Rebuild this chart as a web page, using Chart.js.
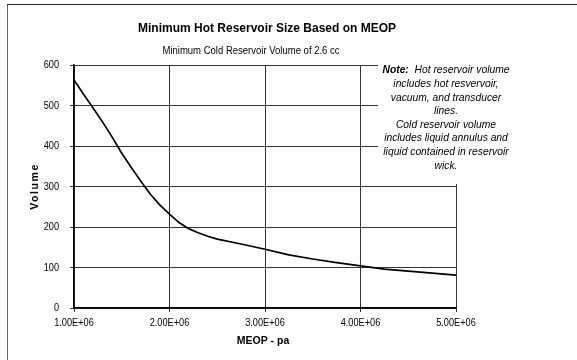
<!DOCTYPE html>
<html>
<head>
<meta charset="utf-8">
<script src="https://cdn.jsdelivr.net/npm/chart.js@4"></script>
<style>
  html, body { margin: 0; padding: 0; background: #fff; }
  #wrap { width: 577px; height: 360px; }
</style>
</head>
<body>
<div id="wrap"><canvas id="c" width="577" height="360"></canvas></div>
<script>
// MEOP (Pa) and minimum hot reservoir volume (cc)
const meop = [1.0e6, 1.1e6, 1.2e6, 1.3e6, 1.4e6, 1.5e6, 1.6e6, 1.7e6, 1.8e6, 1.9e6,
              2.0e6, 2.1e6, 2.2e6, 2.3e6, 2.4e6, 2.5e6, 2.75e6, 3.0e6, 3.25e6, 3.5e6,
              3.75e6, 4.0e6, 4.25e6, 4.5e6, 4.75e6, 5.0e6];
const volume = [563, 528, 494, 459, 422, 382, 347, 313, 281, 254,
                232, 211, 196, 186, 177, 170, 158, 145, 131, 121,
                112, 104, 96, 91, 86, 81];

const yTicks = [0, 100, 200, 300, 400, 500, 600];
const xTicks = [1e6, 2e6, 3e6, 4e6, 5e6];

const chartTitle = 'Minimum Hot Reservoir Size Based on MEOP';
const chartSubtitle = 'Minimum Cold Reservoir Volume of 2.6 cc';
const xTitle = 'MEOP - pa';
const yTitle = 'Volume';
const noteLines = [
  'Hot reservoir volume',
  'includes hot resvervoir,',
  'vacuum, and transducer',
  'lines.',
  'Cold reservoir volume',
  'includes liquid annulus and',
  'liquid contained in reservoir',
  'wick.'
];

const FONT = '"Liberation Sans", Arial, sans-serif';

function sci(v) {
  const [m, e] = v.toExponential(2).split('e');
  const n = parseInt(e, 10);
  return m + 'E' + (n < 0 ? '-' : '+') + String(Math.abs(n)).padStart(2, '0');
}

// draw text squeezed horizontally (narrow look of the axis lettering)
function squeezed(ctx, text, x, y, sx, align) {
  ctx.save();
  ctx.translate(x, y);
  ctx.scale(sx, 1);
  ctx.textAlign = align;
  ctx.fillText(text, 0, 0);
  ctx.restore();
}

const decor = {
  id: 'decor',
  beforeDraw(chart) {
    const ctx = chart.ctx;
    ctx.save();
    ctx.fillStyle = '#fff';
    ctx.fillRect(0, 0, chart.width, chart.height);
    // outer frame
    ctx.lineWidth = 1;
    ctx.strokeStyle = '#666';
    ctx.beginPath(); ctx.moveTo(7.5, 4); ctx.lineTo(7.5, 360); ctx.stroke();
    ctx.strokeStyle = '#222';
    ctx.beginPath(); ctx.moveTo(7, 4.5); ctx.lineTo(577, 4.5); ctx.stroke();
    ctx.restore();
  },
  afterDatasetsDraw(chart) {
    const ctx = chart.ctx;
    const a = chart.chartArea;
    const xs = chart.scales.x, ys = chart.scales.y;
    ctx.save();
    // note box
    ctx.fillStyle = '#fff';
    ctx.fillRect(378, 60, 160, 124);
    ctx.fillStyle = '#000';
    ctx.textBaseline = 'middle';
    const cx = 446;
    let y = 70.5;
    noteLines.forEach((line, i) => {
      if (i === 0) {
        const lead = 'Note:  ';
        ctx.font = 'italic bold 10.3px ' + FONT;
        const w1 = ctx.measureText(lead).width;
        ctx.font = 'italic 10.3px ' + FONT;
        const w2 = ctx.measureText(line).width;
        const x0 = cx - (w1 + w2) / 2;
        ctx.textAlign = 'left';
        ctx.font = 'italic bold 10.3px ' + FONT;
        ctx.fillText(lead, x0, y);
        ctx.font = 'italic 10.3px ' + FONT;
        ctx.fillText(line, x0 + w1, y);
      } else {
        ctx.textAlign = 'center';
        ctx.font = 'italic 10.3px ' + FONT;
        ctx.fillText(line, cx, y);
      }
      y += 13.6;
    });

    // tick labels
    ctx.font = '10.7px ' + FONT;
    ys.ticks.forEach(t => {
      squeezed(ctx, String(t.value), 59, ys.getPixelForValue(t.value) + 0.5, 0.86, 'right');
    });
    xs.ticks.forEach(t => {
      squeezed(ctx, sci(t.value), xs.getPixelForValue(t.value), 323, 0.86, 'center');
    });

    // titles
    ctx.textAlign = 'center';
    ctx.font = 'bold 12px ' + FONT;
    ctx.fillText(chartTitle, 267, 29);
    ctx.font = '10.7px ' + FONT;
    squeezed(ctx, chartSubtitle, 251, 51, 0.89, 'center');

    // axis titles
    ctx.font = 'bold 10.5px ' + FONT;
    ctx.fillText(xTitle, 263, 341);
    ctx.translate(35, (a.top + a.bottom) / 2);
    ctx.rotate(-Math.PI / 2);
    ctx.letterSpacing = '1.6px';
    ctx.font = 'bold 10.5px ' + FONT;
    ctx.fillText(yTitle, 0, 0);
    ctx.restore();
  }
};

new Chart(document.getElementById('c'), {
  type: 'line',
  data: {
    datasets: [{
      data: meop.map((x, i) => ({ x: x, y: volume[i] })),
      borderColor: '#000',
      borderWidth: 1.7,
      pointRadius: 0,
      tension: 0,
      fill: false
    }]
  },
  options: {
    responsive: false,
    animation: false,
    devicePixelRatio: 1,
    layout: { padding: { left: 34, top: 65, right: 121, bottom: 22 } },
    plugins: { legend: { display: false }, tooltip: { enabled: false } },
    scales: {
      x: {
        type: 'linear',
        min: 1e6, max: 5e6,
        afterBuildTicks(s) { s.ticks = xTicks.map(v => ({ value: v })); },
        afterFit(s) { s.height = 30; },
        grid: { color: '#333', lineWidth: 1, tickLength: 4, drawTicks: true },
        border: { color: '#000', width: 1.5 },
        ticks: { display: false }
      },
      y: {
        min: 0, max: 600,
        afterBuildTicks(s) { s.ticks = yTicks.map(v => ({ value: v })); },
        afterFit(s) { s.width = 40; },
        grid: { color: '#333', lineWidth: 1, tickLength: 4, drawTicks: true },
        border: { color: '#000', width: 1.5 },
        ticks: { display: false }
      }
    }
  },
  plugins: [decor]
});
</script>
</body>
</html>
